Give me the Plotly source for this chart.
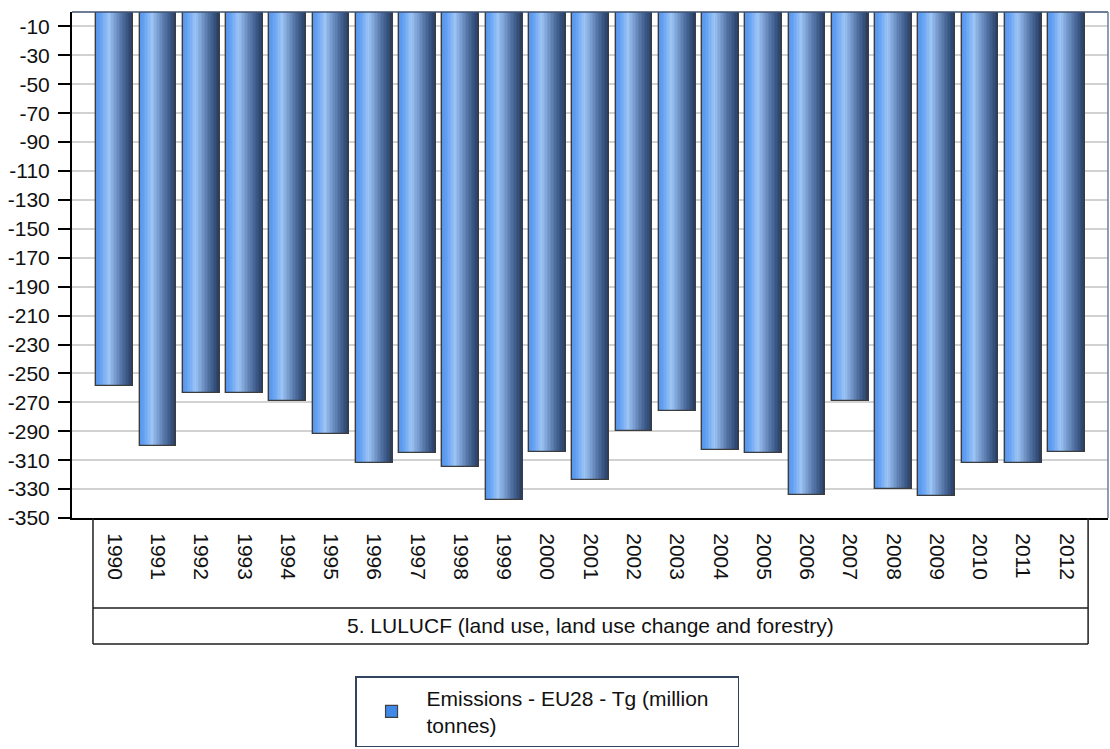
import plotly.graph_objects as go

# EU28 LULUCF net emissions, Tg (million tonnes)
years = ["1990", "1991", "1992", "1993", "1994", "1995", "1996", "1997", "1998", "1999",
         "2000", "2001", "2002", "2003", "2004", "2005", "2006", "2007", "2008", "2009",
         "2010", "2011", "2012"]
emissions = [-259, -300, -263.5, -263.5, -269, -292, -312, -305, -315, -337.5,
             -304, -324, -290, -276, -303, -305, -334, -269, -330, -335,
             -312, -312, -304]
y_ticks = [-10, -30, -50, -70, -90, -110, -130, -150, -170, -190, -210, -230,
           -250, -270, -290, -310, -330, -350]
series_name = "Emissions - EU28 - Tg (million<br>tonnes)"
group_label = "5. LULUCF (land use, land use change and forestry)"

FONT = "Liberation Sans, Arial, sans-serif"
FS = 21
TXT = "#111111"
BAR_W = 0.845

# horizontal shading across each bar (position across bar -> colour)
stops = [(0.0, (84, 146, 232)), (0.15, (104, 164, 244)), (0.35, (156, 196, 244)),
         (0.5, (126, 162, 214)), (0.7, (84, 116, 166)), (0.88, (54, 82, 126)),
         (1.0, (40, 60, 98))]


def shade(t):
    for (t0, c0), (t1, c1) in zip(stops[:-1], stops[1:]):
        if t0 <= t <= t1:
            f = (t - t0) / (t1 - t0)
            return "rgb(%d,%d,%d)" % tuple(round(a + (b - a) * f) for a, b in zip(c0, c1))
    return "rgb(%d,%d,%d)" % stops[-1][1]


fig = go.Figure()

# base bars: legend entry and solid fill
fig.add_trace(go.Bar(
    x=years, y=emissions, name=series_name, width=BAR_W,
    marker=dict(color="#3f8ae8", line=dict(color="#404040", width=1.2)),
    hoverinfo="skip", showlegend=True,
))

# shaded slices laid side by side over each bar
N = 24
sw = BAR_W / N
for k in range(N):
    fig.add_trace(go.Bar(
        x=years, y=emissions, width=sw * 1.15, offset=-BAR_W / 2 + k * sw,
        marker=dict(color=shade((k + 0.5) / N), line=dict(width=0)),
        hoverinfo="skip", showlegend=False,
    ))

# bar outlines on top
fig.add_trace(go.Bar(
    x=years, y=emissions, width=BAR_W,
    marker=dict(color="rgba(0,0,0,0)", line=dict(color="#3c3c3c", width=1.2)),
    hoverinfo="skip", showlegend=False,
))

n = len(years)
line_col = "#1e1e1e"
shapes = [
    # plot frame top and right
    dict(type="line", xref="paper", yref="paper", x0=0, x1=1, y0=1, y1=1,
         line=dict(color="#3e5170", width=1.5)),
    dict(type="line", xref="paper", yref="paper", x0=1, x1=1, y0=0, y1=1,
         line=dict(color="#6a7c98", width=1.5)),
    # category table under the axis
    dict(type="line", xref="x", yref="paper", x0=-0.5, x1=-0.5, y0=0, y1=-0.249,
         line=dict(color=line_col, width=1.5)),
    dict(type="line", xref="x", yref="paper", x0=n - 0.5, x1=n - 0.5, y0=0, y1=-0.249,
         line=dict(color=line_col, width=1.5)),
    dict(type="line", xref="x", yref="paper", x0=-0.5, x1=n - 0.5, y0=-0.178, y1=-0.178,
         line=dict(color=line_col, width=1.5)),
    dict(type="line", xref="x", yref="paper", x0=-0.5, x1=n - 0.5, y0=-0.249, y1=-0.249,
         line=dict(color=line_col, width=1.5)),
]

fig.update_layout(
    width=1110, height=749,
    margin=dict(l=72, r=2, t=12, b=231, autoexpand=False),
    paper_bgcolor="white", plot_bgcolor="white",
    barmode="overlay", bargap=0,
    font=dict(family=FONT, size=FS, color=TXT),
    shapes=shapes,
    annotations=[dict(text=group_label, xref="x", yref="paper", x=(n - 1) / 2, y=-0.2134,
                      showarrow=False, xanchor="center", yanchor="middle",
                      font=dict(family=FONT, size=FS, color=TXT))],
    legend=dict(x=0.2732, y=-0.3123, xanchor="left", yanchor="top",
                orientation="h", entrywidth=306, entrywidthmode="pixels",
                bgcolor="white", bordercolor="#33455e", borderwidth=1.5,
                font=dict(family=FONT, size=FS, color=TXT), itemwidth=60),
    hovermode=False,
)

fig.update_xaxes(
    type="category", range=[-0.985, n - 0.04],
    showgrid=False, showline=True, linecolor="black", linewidth=2,
    ticks="", tickangle=90, ticklabelstandoff=9,
    tickfont=dict(family=FONT, size=FS, color=TXT),
    zeroline=False,
)
fig.update_yaxes(
    range=[-350, 0],
    tickvals=y_ticks, ticktext=[str(v) for v in y_ticks],
    showgrid=True, gridcolor="#d2d2d2", gridwidth=1.5,
    showline=True, linecolor="black", linewidth=2,
    ticks="outside", ticklen=12, tickwidth=2, tickcolor="black",
    ticklabelstandoff=4,
    tickfont=dict(family=FONT, size=FS, color=TXT),
    zeroline=False,
)

fig.write_html("out.html")
